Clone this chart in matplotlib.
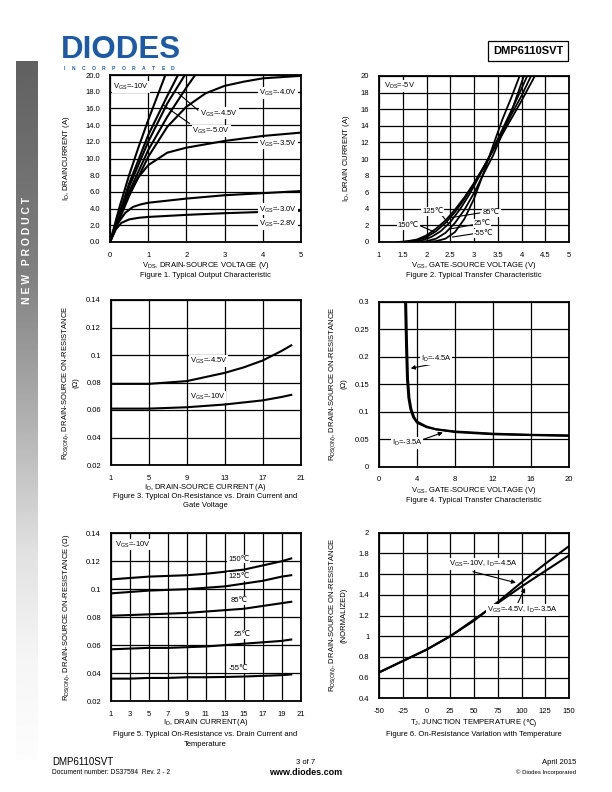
import numpy as np
import matplotlib
matplotlib.use('Agg')
import matplotlib.pyplot as plt

plt.rcParams['font.family'] = ['Liberation Sans', 'DejaVu Sans']
plt.rcParams['mathtext.fontset'] = 'custom'
plt.rcParams['mathtext.rm'] = 'Liberation Sans'
plt.rcParams['mathtext.default'] = 'rm'

W, H = 612, 792

# ---- Figure 1: output characteristic (VDS, ID) ----
f1_vds = {
    '-10V': [0, 0.25, 0.5, 0.75, 1.0, 1.25, 1.45],
    '-6V': [0, 0.5, 1.0, 1.5, 1.78],
    '-5.0V': [0, 0.5, 1.0, 1.5, 1.96],
    '-4.5V': [0, 0.5, 1.0, 1.5, 2.0, 2.23],
    '-4.0V': [0, 0.5, 1.0, 1.5, 2.0, 2.5, 3.0, 3.5, 4.0, 5.0],
    '-3.5V': [0, 0.25, 0.5, 0.75, 1.0, 1.5, 2.0, 3.0, 4.0, 5.0],
    '-3.0V': [0, 0.2, 0.4, 0.6, 0.8, 1.0, 2.0, 3.0, 4.0, 5.0],
    '-2.8V': [0, 0.15, 0.3, 0.5, 0.75, 1.0, 2.0, 3.0, 4.0, 5.0],
}
f1_id = {
    '-10V': [0, 4.2, 8.0, 11.4, 14.6, 17.6, 20],
    '-6V': [0, 7.0, 12.8, 17.5, 20],
    '-5.0V': [0, 6.6, 12.0, 16.6, 20],
    '-4.5V': [0, 6.0, 11.0, 15.0, 18.5, 20],
    '-4.0V': [0, 5.5, 10.2, 13.8, 16.2, 17.8, 18.7, 19.2, 19.6, 19.9],
    '-3.5V': [0, 3.2, 5.8, 7.8, 9.2, 10.7, 11.3, 12.1, 12.7, 13.1],
    '-3.0V': [0, 2.2, 3.5, 4.2, 4.5, 4.7, 5.2, 5.6, 5.85, 6.1],
    '-2.8V': [0, 1.5, 2.3, 2.7, 2.9, 3.0, 3.25, 3.45, 3.6, 3.75],
}

# ---- Figure 2: transfer characteristic (VGS, ID) per temperature ----
f2_vgs = {
    '150': [1.4, 1.6, 1.8, 2.0, 2.2, 2.4, 2.6, 2.8, 3.0, 3.2, 3.4, 3.6, 3.8, 4.0, 4.28],
    '125': [1.5, 1.8, 2.0, 2.2, 2.4, 2.6, 2.8, 3.0, 3.2, 3.4, 3.6, 3.8, 4.0, 4.2],
    '85': [1.6, 1.9, 2.1, 2.3, 2.5, 2.7, 2.9, 3.1, 3.3, 3.5, 3.7, 3.9, 4.12],
    '25': [1.7, 2.0, 2.2, 2.4, 2.6, 2.8, 3.0, 3.2, 3.4, 3.6, 3.8, 4.05],
    '-55': [1.9, 2.2, 2.4, 2.6, 2.8, 3.0, 3.2, 3.4, 3.6, 3.8, 3.96],
}
f2_id = {
    '150': [0, 0.1, 0.3, 0.8, 1.6, 2.6, 3.9, 5.4, 7.1, 9.0, 11.0, 13.0, 15.0, 17.0, 20],
    '125': [0, 0.2, 0.6, 1.3, 2.3, 3.6, 5.2, 7.0, 9.0, 11.1, 13.3, 15.5, 17.6, 20],
    '85': [0, 0.2, 0.6, 1.3, 2.4, 3.9, 5.7, 7.8, 10.0, 12.4, 14.8, 17.2, 20],
    '25': [0, 0.1, 0.4, 1.1, 2.3, 3.9, 5.9, 8.2, 10.4, 13.1, 15.9, 20],
    '-55': [0, 0.1, 0.4, 1.2, 2.8, 5.2, 8.3, 11.6, 14.8, 17.6, 20],
}

# ---- Figure 3: RDS(on) vs ID per VGS ----
f3_id = [1, 3, 5, 7, 9, 11, 13, 15, 17, 19, 20]
f3_r45 = [0.079, 0.079, 0.079, 0.080, 0.081, 0.084, 0.087, 0.091, 0.096, 0.103, 0.107]
f3_r10 = [0.061, 0.061, 0.061, 0.0615, 0.062, 0.063, 0.064, 0.0655, 0.067, 0.0695, 0.071]

# ---- Figure 4: RDS(on) vs VGS ----
f4_vgs45 = [2.75, 2.85, 2.95, 3.1, 3.3, 3.6, 4, 5, 6, 8, 10, 12, 16, 20]
f4_r45 = [0.3, 0.22, 0.16, 0.125, 0.105, 0.09, 0.08, 0.072, 0.068, 0.064, 0.062, 0.060, 0.058, 0.057]
f4_vgs35 = [2.85, 2.95, 3.05, 3.2, 3.4, 3.7, 4, 5, 6, 8, 10, 12, 16, 20]
f4_r35 = [0.3, 0.22, 0.16, 0.125, 0.105, 0.09, 0.082, 0.073, 0.068, 0.063, 0.061, 0.059, 0.0575, 0.056]

# ---- Figure 5: RDS(on) vs ID per temperature ----
f5_id = [1, 3, 5, 7, 9, 11, 13, 15, 17, 19, 20]
f5_r = {
    '150': [0.107, 0.108, 0.109, 0.1095, 0.110, 0.111, 0.1125, 0.114, 0.117, 0.120, 0.122],
    '125': [0.097, 0.098, 0.099, 0.0995, 0.100, 0.101, 0.102, 0.104, 0.106, 0.109, 0.110],
    '85': [0.081, 0.0815, 0.082, 0.0825, 0.083, 0.084, 0.085, 0.086, 0.088, 0.090, 0.091],
    '25': [0.057, 0.0575, 0.058, 0.058, 0.0585, 0.059, 0.060, 0.061, 0.062, 0.063, 0.064],
    '-55': [0.036, 0.036, 0.0365, 0.0365, 0.037, 0.037, 0.0372, 0.0375, 0.038, 0.0385, 0.039],
}

# ---- Figure 6: normalized RDS(on) vs TJ ----
f6_tj = [-50, -25, 0, 25, 50, 75, 100, 125, 150]
f6_r10 = [0.65, 0.76, 0.87, 1.0, 1.15, 1.33, 1.52, 1.70, 1.87]
f6_r45 = [0.65, 0.76, 0.87, 1.0, 1.16, 1.32, 1.48, 1.63, 1.78]


def fx(x):
    return x / W


def fy(y):
    return 1 - y / H


def box(l, t, r, b):
    return [fx(l), fy(b), (r - l) / W, (b - t) / H]


def setup(ax, xlim, ylim, xt, xtl, yt, ytl):
    ax.set_xlim(*xlim)
    ax.set_ylim(*ylim)
    ax.set_xticks(xt)
    ax.set_xticklabels(xtl)
    ax.set_yticks(yt)
    ax.set_yticklabels(ytl)
    ax.tick_params(length=0, labelsize=5.5, pad=7)
    ax.grid(True, color='k', lw=0.9)
    ax.set_axisbelow(True)
    for s in ax.spines.values():
        s.set_linewidth(1.3)


lbl = dict(fontsize=5.5, ha='center', va='center')
wbox = dict(facecolor='white', edgecolor='none', pad=0.6)
deg = '\u2103'
ohm = '\u03a9'

fig = plt.figure(figsize=(W / 100, H / 100), dpi=100)

# side bar gradient
bar = fig.add_axes(box(16, 61, 37, 760))
stops_y = [0, 0.3, 0.5, 0.7, 0.85, 1.0]
stops_v = [0.38, 0.5, 0.68, 0.88, 0.96, 0.99]
g = np.interp(np.linspace(0, 1, 300), stops_y, stops_v)
bar.imshow(g[:, None], cmap='gray', vmin=0, vmax=1, aspect='auto')
bar.axis('off')
fig.text(fx(27.5), fy(250), 'N E W   P R O D U C T', rotation=90, color='white',
         fontsize=7.5, fontweight='bold', ha='center', va='center')

# header
fig.text(fx(61), fy(65.5), 'DIODES', color='#1d5aa6', fontsize=22.5, fontweight='bold',
         ha='left', va='bottom')
for i, ch in enumerate('INCORPORATED'):
    fig.text(fx(64 + i * 9.9), fy(68.8), ch, color='#1d5aa6', fontsize=3.6, fontweight='bold',
             ha='center', va='center')
fig.text(fx(528), fy(50.5), 'DMP6110SVT', fontsize=8, fontweight='bold', ha='center', va='center',
         bbox=dict(facecolor='white', edgecolor='k', lw=0.9, boxstyle='square,pad=0.45'))

# footer
fig.text(fx(52), fy(762), 'DMP6110SVT', fontsize=7, ha='left', va='center')
fig.text(fx(52), fy(772.5), 'Document number: DS37594  Rev. 2 - 2', fontsize=4.8, ha='left', va='center')
fig.text(fx(306), fy(762), '3 of 7', fontsize=5.5, ha='center', va='center')
fig.text(fx(306), fy(772.5), 'www.diodes.com', fontsize=6.5, fontweight='bold', ha='center', va='center')
fig.text(fx(576), fy(763), 'April 2015', fontsize=5.5, ha='right', va='center')
fig.text(fx(576), fy(772.5), '\u00a9 Diodes Incorporated', fontsize=4.3, ha='right', va='center')

# ---- Figure 1 ----
ax1 = fig.add_axes(box(110, 75, 301, 242))
setup(ax1, (0, 5), (0, 20), range(6), [str(i) for i in range(6)],
      np.arange(0, 21, 2), ['%.1f' % v for v in np.arange(0, 21, 2)])
for k in f1_vds:
    ax1.plot(f1_vds[k], f1_id[k], color='k', lw=1.5)
ax1.text(0.55, 18.6, r'V$_{GS}$=-10V', bbox=wbox, **lbl)
ax1.text(4.4, 17.8, r'V$_{GS}$=-4.0V', bbox=wbox, **lbl)
ax1.plot([2.3, 1.79], [15.8, 17.8], color='k', lw=0.8)
ax1.plot([2.08, 1.4], [14.2, 16.4], color='k', lw=0.8)
ax1.text(2.85, 15.4, r'V$_{GS}$=-4.5V', bbox=wbox, **lbl)
ax1.text(2.65, 13.3, r'V$_{GS}$=-5.0V', bbox=wbox, **lbl)
ax1.text(4.4, 11.8, r'V$_{GS}$=-3.5V', bbox=wbox, **lbl)
ax1.text(4.4, 3.9, r'V$_{GS}$=-3.0V', bbox=wbox, **lbl)
ax1.text(4.4, 2.2, r'V$_{GS}$=-2.8V', bbox=wbox, **lbl)
fig.text(fx(67), fy(158), r'I$_D$, DRAINCURRENT (A)', rotation=90, fontsize=5.5, ha='center', va='center')
fig.text(fx(205.5), fy(265.5), r'V$_{DS}$, DRAIN-SOURCE VOLTAGE (V)', fontsize=5.5, ha='center', va='center')
fig.text(fx(205.5), fy(275.5), 'Figure 1. Typical Output Characteristic', fontsize=5.5, ha='center', va='center')

# ---- Figure 2 ----
ax2 = fig.add_axes(box(379, 76, 569, 242))
x2 = np.arange(1, 5.01, 0.5)
setup(ax2, (1, 5), (0, 20), x2, ['%g' % v for v in x2],
      np.arange(0, 21, 2), [str(v) for v in range(0, 21, 2)])
for k in f2_vgs:
    ax2.plot(f2_vgs[k], f2_id[k], color='k', lw=1.3)
ax2.text(1.1, 18.8, r'V$_{DS}$=-5V', ha='left', va='center', fontsize=5.5, bbox=wbox)
ax2.plot([2.3, 2.45], [3.4, 2.3], color='k', lw=0.8)
ax2.text(2.13, 3.7, '125' + deg, bbox=wbox, **lbl)
ax2.plot([1.85, 2.17], [2.0, 1.2], color='k', lw=0.8)
ax2.text(1.62, 2.0, '150' + deg, bbox=wbox, **lbl)
ax2.plot([3.12, 2.48], [3.5, 2.9], color='k', lw=0.8)
ax2.text(3.36, 3.5, '85' + deg, bbox=wbox, **lbl)
ax2.plot([3.0, 2.52], [2.1, 1.6], color='k', lw=0.8)
ax2.text(3.17, 2.2, '25' + deg, bbox=wbox, **lbl)
ax2.plot([3.0, 2.55], [1.0, 0.6], color='k', lw=0.8)
ax2.text(3.2, 1.0, '-55' + deg, bbox=wbox, **lbl)
fig.text(fx(347), fy(158), r'I$_D$, DRAIN CURRENT (A)', rotation=90, fontsize=5.5, ha='center', va='center')
fig.text(fx(474), fy(265.5), r'V$_{GS}$, GATE-SOURCE VOLTAGE (V)', fontsize=5.5, ha='center', va='center')
fig.text(fx(474), fy(275.5), 'Figure 2. Typical Transfer Characteristic', fontsize=5.5, ha='center', va='center')

# ---- Figure 3 ----
ax3 = fig.add_axes(box(110.7, 300, 300.7, 465))
setup(ax3, (1, 21), (0.02, 0.14), [1, 5, 9, 13, 17, 21], ['1', '5', '9', '13', '17', '21'],
      [0.02, 0.04, 0.06, 0.08, 0.1, 0.12, 0.14], ['0.02', '0.04', '0.06', '0.08', '0.1', '0.12', '0.14'])
ax3.plot(f3_id, f3_r45, color='k', lw=1.5)
ax3.plot(f3_id, f3_r10, color='k', lw=1.5)
ax3.text(11.3, 0.0956, r'V$_{GS}$=-4.5V', bbox=wbox, **lbl)
ax3.text(11.2, 0.0692, r'V$_{GS}$=-10V', bbox=wbox, **lbl)
fig.text(fx(66), fy(383), r'R$_{DS(ON)}$, DRAIN-SOURCE ON-RESISTANCE', rotation=90, fontsize=5.5, ha='center', va='center')
fig.text(fx(76), fy(383), '(' + ohm + ')', rotation=90, fontsize=5.5, ha='center', va='center')
fig.text(fx(205.5), fy(487), r'I$_D$, DRAIN-SOURCE CURRENT (A)', fontsize=5.5, ha='center', va='center')
fig.text(fx(205.5), fy(496.5), 'Figure 3. Typical On-Resistance vs. Drain Current and', fontsize=5.5, ha='center', va='center')
fig.text(fx(205.5), fy(506), 'Gate Voltage', fontsize=5.5, ha='center', va='center')

# ---- Figure 4 ----
ax4 = fig.add_axes(box(379, 301.7, 569, 466.7))
setup(ax4, (0, 20), (0, 0.3), [0, 4, 8, 12, 16, 20], ['0', '4', '8', '12', '16', '20'],
      [0, 0.05, 0.1, 0.15, 0.2, 0.25, 0.3], ['0', '0.05', '0.1', '0.15', '0.2', '0.25', '0.3'])
ax4.plot(f4_vgs45, f4_r45, color='k', lw=1.5)
ax4.plot(f4_vgs35, f4_r35, color='k', lw=1.5)
ax4.annotate('', xy=(3.05, 0.178), xytext=(5.8, 0.187),
             arrowprops=dict(arrowstyle='-|>', lw=0.8, color='k', mutation_scale=6))
ax4.text(6.0, 0.196, r'I$_D$=-4.5A', bbox=wbox, **lbl)
ax4.annotate('', xy=(7.0, 0.064), xytext=(4.4, 0.048),
             arrowprops=dict(arrowstyle='-|>', lw=0.8, color='k', mutation_scale=6))
ax4.text(2.95, 0.0436, r'I$_D$=-3.5A', bbox=wbox, **lbl)
fig.text(fx(333), fy(384), r'R$_{DS(ON)}$, DRAIN-SOURCE ON-RESISTANCE', rotation=90, fontsize=5.5, ha='center', va='center')
fig.text(fx(344), fy(384), '(' + ohm + ')', rotation=90, fontsize=5.5, ha='center', va='center')
fig.text(fx(474), fy(490), r'V$_{GS}$, GATE-SOURCE VOLTAGE (V)', fontsize=5.5, ha='center', va='center')
fig.text(fx(474), fy(501), 'Figure 4. Typical Transfer Characteristic', fontsize=5.5, ha='center', va='center')

# ---- Figure 5 ----
ax5 = fig.add_axes(box(110.7, 533.3, 300.7, 701))
x5 = list(range(1, 22, 2))
setup(ax5, (1, 21), (0.02, 0.14), x5, [str(v) for v in x5],
      [0.02, 0.04, 0.06, 0.08, 0.1, 0.12, 0.14], ['0.02', '0.04', '0.06', '0.08', '0.1', '0.12', '0.14'])
for k in f5_r:
    ax5.plot(f5_id, f5_r[k], color='k', lw=1.5)
ax5.text(1.5, 0.132, r'V$_{GS}$=-10V', ha='left', va='center', fontsize=5.5, bbox=wbox)
f5_lab = {'150': (14.5, 0.1215), '125': (14.5, 0.109), '85': (14.5, 0.092), '25': (14.8, 0.0677), '-55': (14.4, 0.0434)}
for k, (lx, ly) in f5_lab.items():
    ax5.text(lx, ly, k + deg, bbox=wbox, **lbl)
fig.text(fx(67), fy(617), r'R$_{DS(ON)}$, DRAIN-SOURCE ON-RESISTANCE (' + ohm + ')', rotation=90, fontsize=5.5, ha='center', va='center')
fig.text(fx(205.5), fy(723), r'I$_D$, DRAIN CURRENT(A)', fontsize=5.5, ha='center', va='center')
fig.text(fx(205.5), fy(734), 'Figure 5. Typical On-Resistance vs. Drain Current and', fontsize=5.5, ha='center', va='center')
fig.text(fx(205.5), fy(744), 'Temperature', fontsize=5.5, ha='center', va='center')

# ---- Figure 6 ----
ax6 = fig.add_axes(box(379, 532.7, 569, 698.3))
x6 = list(range(-50, 151, 25))
y6 = [0.4, 0.6, 0.8, 1.0, 1.2, 1.4, 1.6, 1.8, 2.0]
setup(ax6, (-50, 150), (0.4, 2), x6, [str(v) for v in x6], y6, ['%g' % v for v in y6])
ax6.plot(f6_tj, f6_r10, color='k', lw=1.5)
ax6.plot(f6_tj, f6_r45, color='k', lw=1.5)
ax6.annotate('', xy=(97, 1.51), xytext=(46, 1.63),
             arrowprops=dict(arrowstyle='-|>', lw=0.8, color='k', mutation_scale=6))
ax6.text(24, 1.70, r'V$_{GS}$=-10V, I$_D$=-4.5A', ha='left', va='center', fontsize=5.5, bbox=wbox)
ax6.annotate('', xy=(105, 1.49), xytext=(95, 1.30),
             arrowprops=dict(arrowstyle='-|>', lw=0.8, color='k', mutation_scale=6))
ax6.text(64, 1.255, r'V$_{GS}$=-4.5V, I$_D$=-3.5A', ha='left', va='center', fontsize=5.5, bbox=wbox)
fig.text(fx(333), fy(615), r'R$_{DS(ON)}$, DRAIN-SOURCE ON-RESISTANCE', rotation=90, fontsize=5.5, ha='center', va='center')
fig.text(fx(344), fy(615), '(NORMALIZED)', rotation=90, fontsize=5.5, ha='center', va='center')
# x label split so the Celsius sign is not drawn by mathtext
t1 = fig.text(0, fy(723), r'T$_J$, JUNCTION TEMPERATURE (', fontsize=5.5, ha='left', va='center')
t2 = fig.text(0, fy(723), deg + ')', fontsize=5.5, ha='left', va='center')
rend = fig.canvas.get_renderer()
w1 = t1.get_window_extent(rend).width
w2 = t2.get_window_extent(rend).width
x0 = 474 - (w1 + w2) / 2
t1.set_x(fx(x0))
t2.set_x(fx(x0 + w1 - 1.2))
fig.text(fx(474), fy(735), 'Figure 6. On-Resistance Variation with Temperature', fontsize=5.5, ha='center', va='center')

fig.savefig('out.png', dpi=100)
